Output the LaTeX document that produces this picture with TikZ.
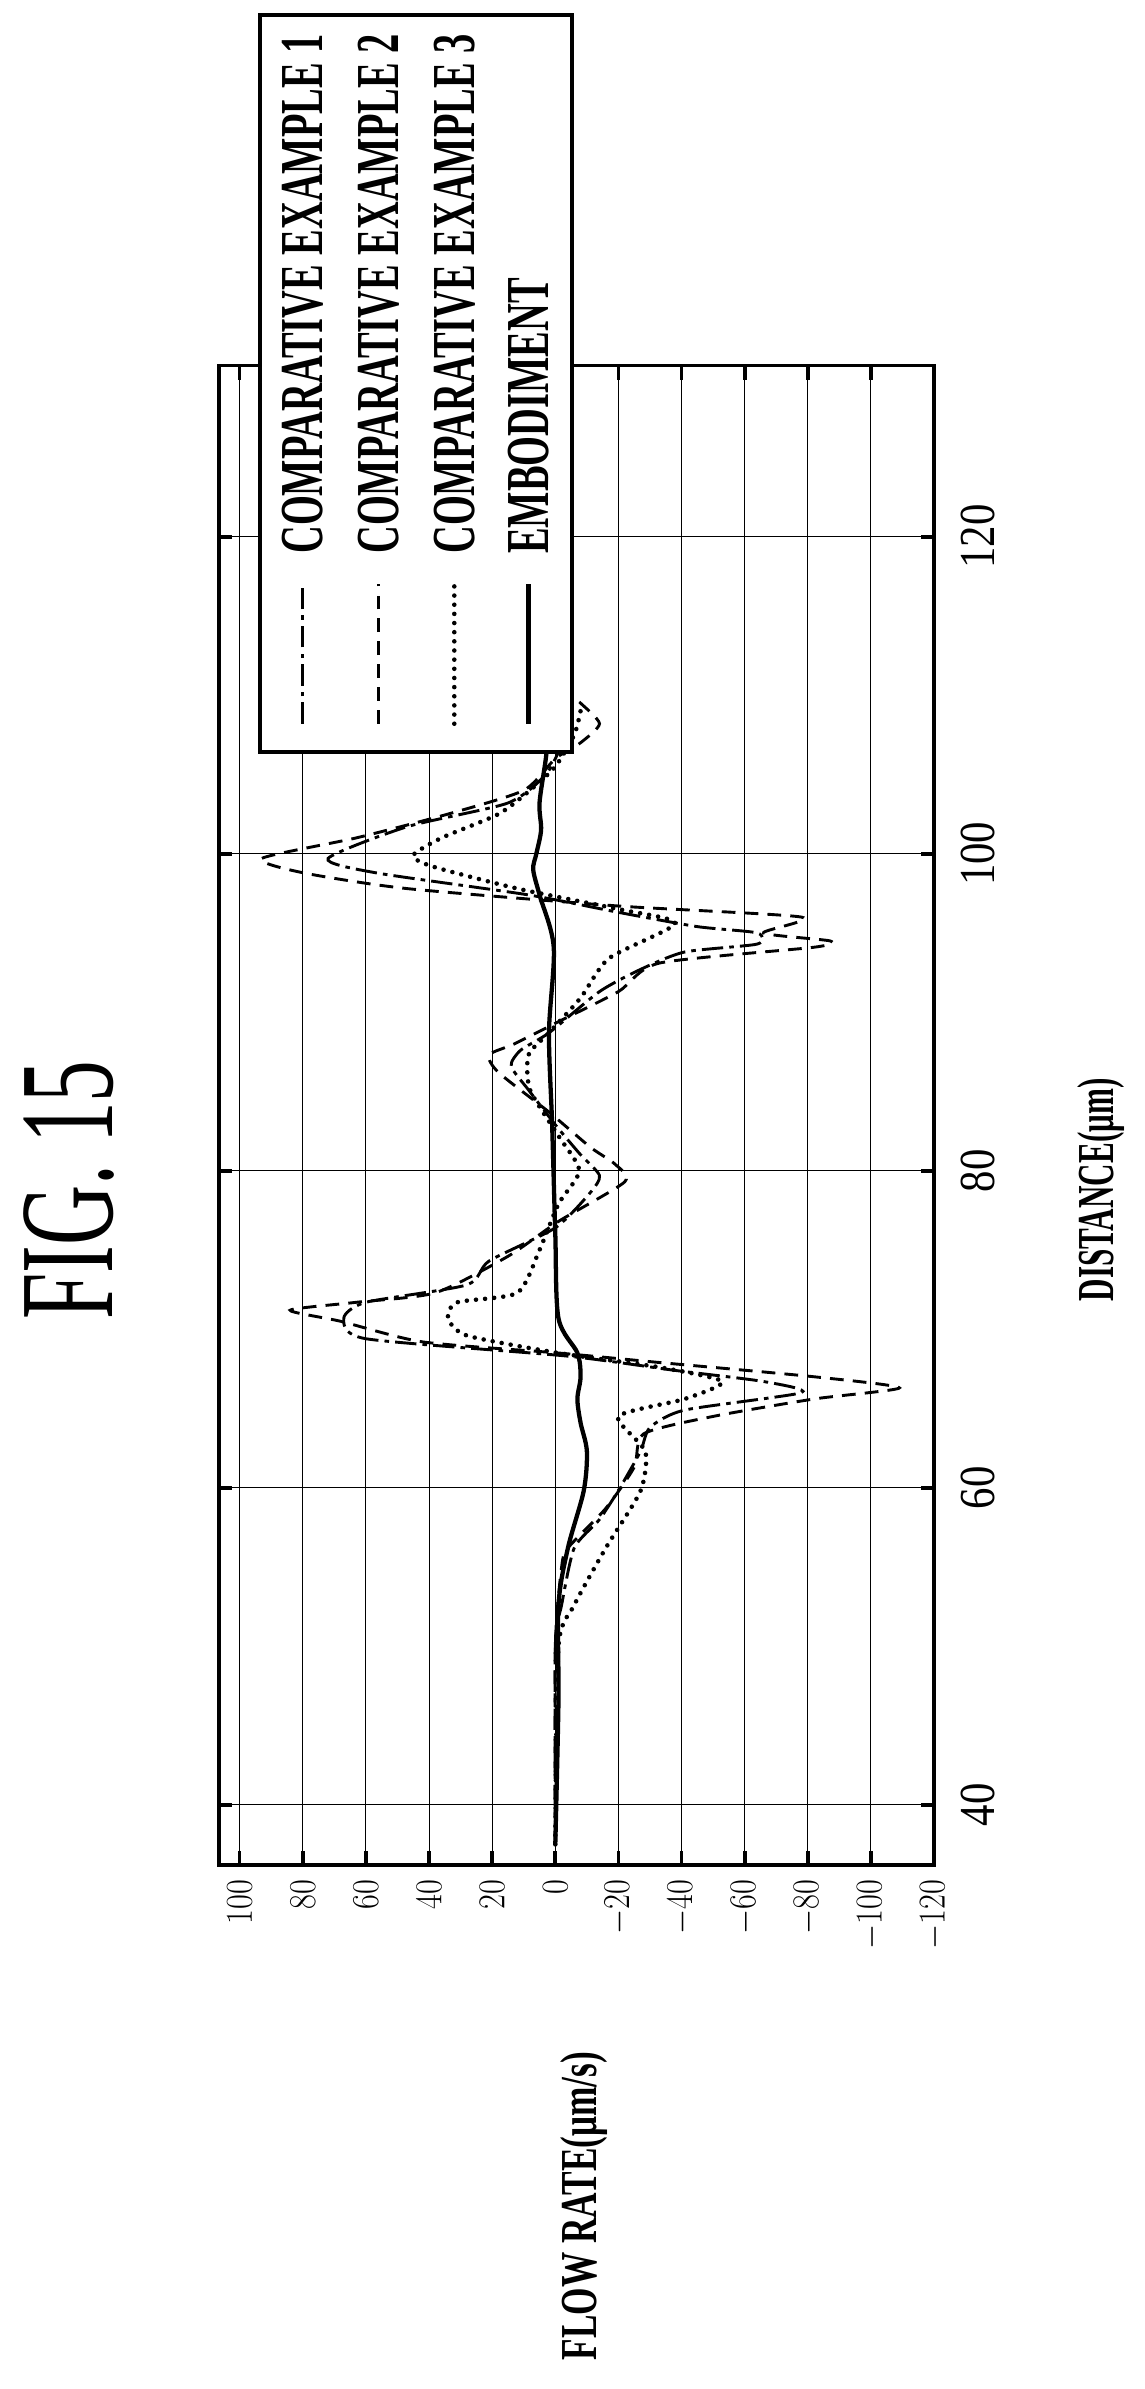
\documentclass[tikz,border=0pt]{standalone}
\usepackage{fontspec}
\setmainfont{Liberation Serif}
\usepackage{graphicx}
\newcommand\narrow[2]{\scalebox{#1}[1]{#2}}

\tikzset{every picture/.style={line width=0.5pt}}
\tikzset{
  gridline/.style={line width=0.7pt},
  frameline/.style={line width=2.6pt},
  tickmark/.style={line width=2.4pt},
  cmpone/.style={line width=1.9pt, dash pattern=on 14pt off 4pt on 3pt off 4pt},
  cmptwo/.style={line width=1.9pt, dash pattern=on 9pt off 6pt},
  cmpthree/.style={line width=3pt, line cap=round, dash pattern=on 0pt off 6pt},
  embline/.style={line width=2.8pt},
  ticklabel/.style={rotate=90, inner sep=0pt, font=\fontsize{33}{33}\selectfont},
  legendtext/.style={rotate=90, anchor=west, inner sep=0pt, font=\bfseries\fontsize{40}{40}\selectfont},
}

\begin{document}
\begin{tikzpicture}[x=1pt,y=-1pt]
\useasboundingbox (0,0) rectangle (750,1566);

% Title
\node (fig) [rotate=90, inner sep=0pt, font=\fontsize{88}{88}\selectfont] at (45,780) {\narrow{0.62}{FIG. 15}};

% Plot area, (distance, flow rate)
\begin{scope}[shift={(364,1598.6)}, x={(0pt,10.39pt)}, y={(-2.069pt,0pt)}]
  \coordinate (ll) at (36.2,106.7);
  \coordinate (ur) at (130.8,-120);
  % grid
  \foreach \v in {100,80,...,-120}
    \draw [gridline] (36.2,\v) -- (130.8,\v);
  \foreach \d in {40,60,...,120}
    \draw [gridline] (\d,106.7) -- (\d,-120);
  % tick marks
  \foreach \v in {100,80,...,-100}{
    \draw [tickmark] (36.2,\v) -- (37.1,\v);
    \draw [tickmark] (130.8,\v) -- (129.9,\v);
  }
  \foreach \d in {40,60,...,120}{
    \draw [tickmark] (\d,106.7) -- (\d,102.5);
    \draw [tickmark] (\d,-120) -- (\d,-115.8);
  }

  % Comparative example 2
  \draw [cmptwo] plot [smooth, tension=0.4] coordinates {
    (37.5,0) (50,0) (55,-2) (56.2,-4) (58.7,-16) (61.3,-25) (63.4,-28) (64.5,-50)
    (65.6,-82) (66.3,-109) (67,-82) (67.9,-33) (68.5,-1) (69.2,42) (70.5,68)
    (71.2,84) (71.7,63) (72.3,38) (74.6,15) (76.8,-1) (79.3,-22) (80.4,-19)
    (81.5,-11) (83.7,2) (86.2,18) (87.3,21) (88,13) (89.4,-1) (91.3,-20)
    (93.1,-33) (94.1,-82) (94.5,-87) (95,-66) (96,-78) (96.7,-20) (97.8,47)
    (98.8,80) (99.7,93) (101,63) (102.5,34) (104,10) (106,0) (107,-8)
    (108.2,-14) (109.5,-8) (110.5,-2)};
  % Comparative example 1
  \draw [cmpone] plot [smooth, tension=0.4] coordinates {
    (37.5,0) (50,0) (52.6,-2) (56.2,-6) (58,-14) (60,-20.5) (62.3,-27)
    (63.8,-30) (64.9,-41) (66,-78) (66.7,-66) (67.4,-38) (68.3,-4) (69.4,60)
    (70.7,67) (71.7,60) (72.8,28) (74.3,21) (76.4,0) (78.6,-11) (79.7,-14)
    (81.1,-7.6) (82.9,0) (85.1,8.5) (86.6,14) (87.6,11) (88.7,2) (91.3,-14)
    (92.7,-27) (93.8,-41) (94.3,-64) (95,-64) (95.4,-45) (96.3,-20) (97.4,8.5)
    (98.8,57) (99.7,72) (101.7,47) (103.2,15) (105,3) (107,-2) (110,-4)};
  % Comparative example 3
  \draw [cmpthree] plot [smooth, tension=0.4] coordinates {
    (37.5,0) (50,-1) (52.6,-6) (56.2,-16) (59.8,-27) (62.3,-28.5) (64.5,-20)
    (65.6,-41) (66.7,-53) (67.6,-33) (68.5,-1) (69.6,28) (70.7,34) (71.7,31)
    (72.3,12) (75,5) (77.9,-1) (80,-7.6) (82.2,-1) (85.1,8) (87.3,8.5)
    (88.7,2) (90.9,-8) (93.4,-17) (95.6,-38) (96.5,-20) (97.8,12) (99.2,39)
    (99.9,45) (101,36) (102.5,18) (104,8) (105.5,0) (107.5,-6) (109,-8)};
  % Embodiment
  \draw [embline] plot [smooth, tension=0.5] coordinates {
    (37.5,0) (46.5,-1) (52.6,-1) (56.2,-4) (59.8,-9) (62.3,-10) (64.1,-8)
    (65.6,-7) (67,-8) (68.5,-7) (70.7,-1) (76,0) (82.9,1) (88.7,2) (94.1,0.5)
    (97.4,5) (99,7) (100,6) (101.5,4.5) (103.2,5) (106,3) (108,2)};

  % frame
  \draw [frameline] (ll) rectangle (ur);

  % legend
  \draw [frameline, fill=white] (106.4,93.5) rectangle (152.9,-5.2);
  \draw [cmpone]   (108.2,80) -- (117,80);
  \draw [cmptwo]   (108.2,56) -- (117,56);
  \draw [cmpthree] (108.2,32) -- (117,32);
  \draw [embline]  (108.2,8.5) -- (117,8.5);
  \node (lgone)   [legendtext] at (118.9,80)  {\narrow{0.63}{COMPARATIVE EXAMPLE 1}};
  \node (lgtwo)   [legendtext] at (118.9,56)  {\narrow{0.63}{COMPARATIVE EXAMPLE 2}};
  \node (lgthree) [legendtext] at (118.9,32)  {\narrow{0.63}{COMPARATIVE EXAMPLE 3}};
  \node (lgemb)   [legendtext] at (118.9,8.5) {\narrow{0.63}{EMBODIMENT}};

  % tick labels
  \foreach \v in {100,80,...,-120}
    \node [ticklabel, anchor=east] at (35.3,\v) {\narrow{0.85}{$\v$}};
  \foreach \d in {40,60,...,120}
    \node [ticklabel] at (\d,-134) {\narrow{0.85}{\d}};
\end{scope}

% axis titles
\node (xlabel) [rotate=90, inner sep=0pt, font=\bfseries\fontsize{34}{34}\selectfont] at (722,780) {\narrow{0.6}{DISTANCE(μm)}};
\node (ylabel) [rotate=90, inner sep=0pt, font=\bfseries\fontsize{34}{34}\selectfont] at (383,1446) {\narrow{0.68}{FLOW RATE(μm/s)}};
\end{tikzpicture}
\end{document}
